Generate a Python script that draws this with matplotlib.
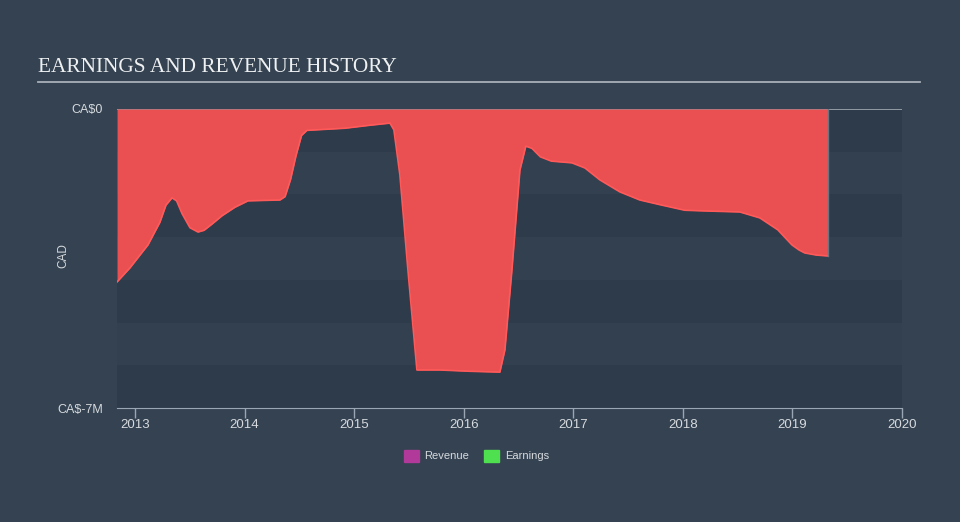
import matplotlib.pyplot as plt
import numpy as np

# earnings history (CA$ millions), x in decimal years
years = [2012.836, 2012.954, 2013.119, 2013.228, 2013.283, 2013.338, 2013.380, 2013.430,
         2013.502, 2013.575, 2013.630, 2013.700, 2013.794, 2013.912, 2014.031, 2014.323,
         2014.370, 2014.420, 2014.469, 2014.520, 2014.569, 2014.916, 2015.144, 2015.327,
         2015.363, 2015.418, 2015.491, 2015.573, 2015.783, 2016.057, 2016.330, 2016.376,
         2016.440, 2016.513, 2016.567, 2016.622, 2016.700, 2016.800, 2016.987, 2017.106,
         2017.243, 2017.425, 2017.607, 2017.808, 2018.018, 2018.246, 2018.520, 2018.703,
         2018.867, 2018.995, 2019.060, 2019.113, 2019.220, 2019.323]
earnings = [-4.05, -3.72, -3.18, -2.65, -2.25, -2.08, -2.15, -2.45,
            -2.78, -2.88, -2.84, -2.70, -2.50, -2.30, -2.15, -2.13,
            -2.05, -1.65, -1.10, -0.62, -0.50, -0.45, -0.38, -0.33,
            -0.49, -1.55, -3.77, -6.11, -6.11, -6.14, -6.16, -5.64,
            -3.77, -1.43, -0.87, -0.92, -1.12, -1.22, -1.26, -1.38,
            -1.66, -1.94, -2.13, -2.25, -2.37, -2.39, -2.41, -2.55,
            -2.83, -3.18, -3.30, -3.37, -3.42, -3.44]
xticks = [2013, 2014, 2015, 2016, 2017, 2018, 2019, 2020]
yticks = [0, -7]
ytick_labels = ['CA$0', 'CA$-7M']

bg = '#344251'
txt = '#d6dade'
fig = plt.figure(figsize=(9.6, 5.22), dpi=100, facecolor=bg)
ax = fig.add_axes([117/960, 1-408/522, 785/960, 299/522])
ax.set_facecolor(bg)

# horizontal bands
for i in range(7):
    c = '#2e3b4b' if i % 2 == 0 else '#334050'
    ax.axhspan(-i-1, -i, color=c, lw=0, zorder=0)

ax.axhline(0, color='#a3abb3', lw=1.2, zorder=1)
ax.fill_between(years, earnings, 0, color='#ea4f52', lw=0, zorder=2)
ax.plot(years, earnings, color='#ff5a5a', lw=1.2, zorder=3)
ax.plot([years[-1], years[-1]], [0, earnings[-1]], color='#6b7582', lw=1, zorder=3)

ax.set_xlim(2012.836, 2020.0)
ax.set_ylim(-7, 0)
ax.set_xticks(xticks)
ax.set_xticklabels([str(y) for y in xticks])
ax.set_yticks(yticks)
ax.set_yticklabels(ytick_labels)
for s in ['top', 'right', 'left']:
    ax.spines[s].set_visible(False)
ax.spines['bottom'].set_color('#9aa6b4')
ax.tick_params(axis='x', colors='#9aa6b4', length=7, width=1, labelcolor=txt,
               labelsize=9.5, pad=1)
ax.tick_params(axis='y', length=0, labelcolor=txt, labelsize=9, pad=10)
for lab in ax.get_xticklabels() + ax.get_yticklabels():
    lab.set_family('Liberation Sans')
ax.set_ylabel('CAD', color=txt, fontsize=8.5, family='Liberation Sans')
ax.yaxis.set_label_coords(-0.061, 0.51)

fig.text(38/960, 1-67/522, 'EARNINGS AND REVENUE HISTORY', color='#eef0f2',
         family='Liberation Serif', fontsize=15.3, va='center', ha='left')
fig.add_artist(plt.Line2D([38/960, 920/960], [1-82/522, 1-82/522], color='#a8b0b8', lw=1.3))

# legend
fig.patches.append(plt.Rectangle((404/960, 1-462/522), 15/960, 12/522, color='#b0399a',
                                 transform=fig.transFigure, figure=fig))
fig.text(424/960, 1-456/522, 'Revenue', color=txt, fontsize=8, family='Liberation Sans', va='center')
fig.patches.append(plt.Rectangle((484/960, 1-462/522), 15/960, 12/522, color='#4ee04e',
                                 transform=fig.transFigure, figure=fig))
fig.text(505/960, 1-456/522, 'Earnings', color=txt, fontsize=8, family='Liberation Sans', va='center')

fig.savefig('out.png', dpi=100, facecolor=bg)
